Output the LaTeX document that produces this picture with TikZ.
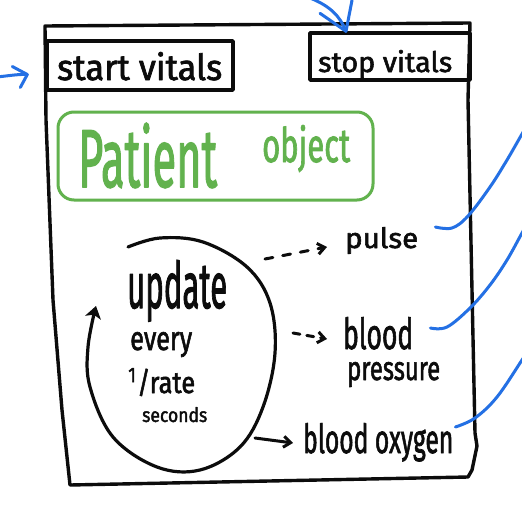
\documentclass[tikz,border=0pt]{standalone}
\usepackage{fontspec}
\setmainfont{Fira Sans}[FakeBold=2]
\usepackage{graphicx}
\usetikzlibrary{arrows.meta}

\definecolor{ink}{RGB}{12,12,12}
\definecolor{penblue}{RGB}{36,112,228}
\definecolor{pengreen}{RGB}{98,178,78}

% lettering squeezed into a given width x height (in pt)
\newcommand{\scribble}[3]{\resizebox{#1pt}{#2pt}{#3}}

\begin{document}
\begin{tikzpicture}[x=1pt,y=-1pt,line cap=round,line join=round,
  inkline/.style={draw=ink,line width=3.4pt},
  bluepen/.style={draw=penblue,line width=3pt},
  word/.style={inner sep=0pt,anchor=base west,text=ink},
  smallhead/.style={-{Straight Barb[length=7pt,width=11pt]}},
]
\clip (0,0) rectangle (522,506);
\fill[white] (0,0) rectangle (522,506);

% window frame
\draw[inkline] (45,26) -- (470,23) -- (468,100) -- (475,433) -- (477,446)
  -- (472,470) -- (468,477) -- (70,485) -- (62,410) -- (53,300) -- (46,120) -- cycle;

% buttons
\node[inkline, minimum width=186pt, minimum height=49pt] (startbox) at (140,65.5) {};
\node[word] (starttxt) at (57,80) {\scribble{165}{28}{start vitals}};
\node[inkline, minimum width=160pt, minimum height=47pt] (stopbox) at (390,56.5) {};
\node[word] (stoptxt) at (318,72) {\scribble{134}{22}{stop vitals}};

% patient object
\node[draw=pengreen, line width=3pt, rounded corners=16pt,
      minimum width=315pt, minimum height=88pt] (patient) at (215.5,156) {};
\node[word, text=pengreen] (ptxt) at (78,187) {\scribble{139}{64}{Patient}};
\node[word, text=pengreen] (otxt) at (262,162) {\scribble{88}{37}{object}};

% update loop
\draw[draw=ink, line width=3.2pt, -{Stealth[length=12pt,width=16pt,inset=3pt]}]
  plot[smooth, tension=0.6] coordinates {(128,247) (160,238) (203,242) (247,267)
  (270,303) (275,353) (263,407) (240,447) (200,470) (157,467) (113,437) (90,387)
  (88,347) (96,306)};
\node[word] (upd) at (127,308) {\scribble{100}{48}{update}};
\node[word] (every) at (130,350) {\scribble{62}{18}{every}};
\node[word] (rate) at (128,393) {\scribble{67}{25}{\textsuperscript{1}/rate}};
\node[word] (secs) at (142,422) {\scribble{65}{15}{seconds}};

% vitals
\node[word] (pulse) at (345,248) {\scribble{73}{21}{pulse}};
\node[word] (blood) at (343,349) {\scribble{70}{32}{blood}};
\node[word] (press) at (347,380) {\scribble{93}{18}{pressure}};
\node[word] (oxy) at (303,453) {\scribble{150}{30}{blood oxygen}};

% loop outputs
\coordinate (loopA) at (265,259);
\coordinate (loopB) at (293,333);
\coordinate (loopC) at (255,438);
\draw[inkline, line width=3pt, dash pattern=on 8pt off 10pt, smallhead]
  (loopA) -- ([shift={(-18,-1)}]pulse.base west);
\draw[inkline, line width=3pt, dash pattern=on 7pt off 7pt, smallhead]
  (loopB) -- ([shift={(-16,-10)}]blood.base west);
\draw[inkline, line width=3pt, smallhead]
  (loopC) -- ([shift={(-10,-10)}]oxy.base west);

% blue wires
\coordinate (pulseout) at ([shift={(17,-21)}]pulse.base east);
\coordinate (bloodout) at ([shift={(17,-21)}]blood.base east);
\coordinate (oxyout) at ([shift={(2,-26)}]oxy.base east);
\draw[bluepen] plot[smooth, tension=0.6] coordinates {(pulseout) (452,228)
  (468,216) (490,187) (507,160) (522,134) (535,112)};
\draw[bluepen] plot[smooth, tension=0.6] coordinates {(bloodout) (447,327)
  (470,308) (490,285) (507,260) (522,233) (535,210)};
\draw[bluepen] plot[smooth, tension=0.6] coordinates {(oxyout) (475,418)
  (497,397) (522,360) (535,340)};

% arrows into the buttons, heads drawn as two strokes
\coordinate (stopin) at ([xshift=-44pt]stopbox.north);
\draw[bluepen] (310,-2) .. controls (330,6) and (340,16) .. (stopin);
\draw[bluepen] (stopin) -- ++(-26,-18) (stopin) -- ++(6,-31);
\coordinate (startin) at ([shift={(-18,9)}]startbox.west);
\draw[bluepen] (-4,77) .. controls (8,76) and (18,74) .. (startin);
\draw[bluepen] (startin) -- ++(-15,-8) (startin) -- ++(-7,13);
\end{tikzpicture}
\end{document}
